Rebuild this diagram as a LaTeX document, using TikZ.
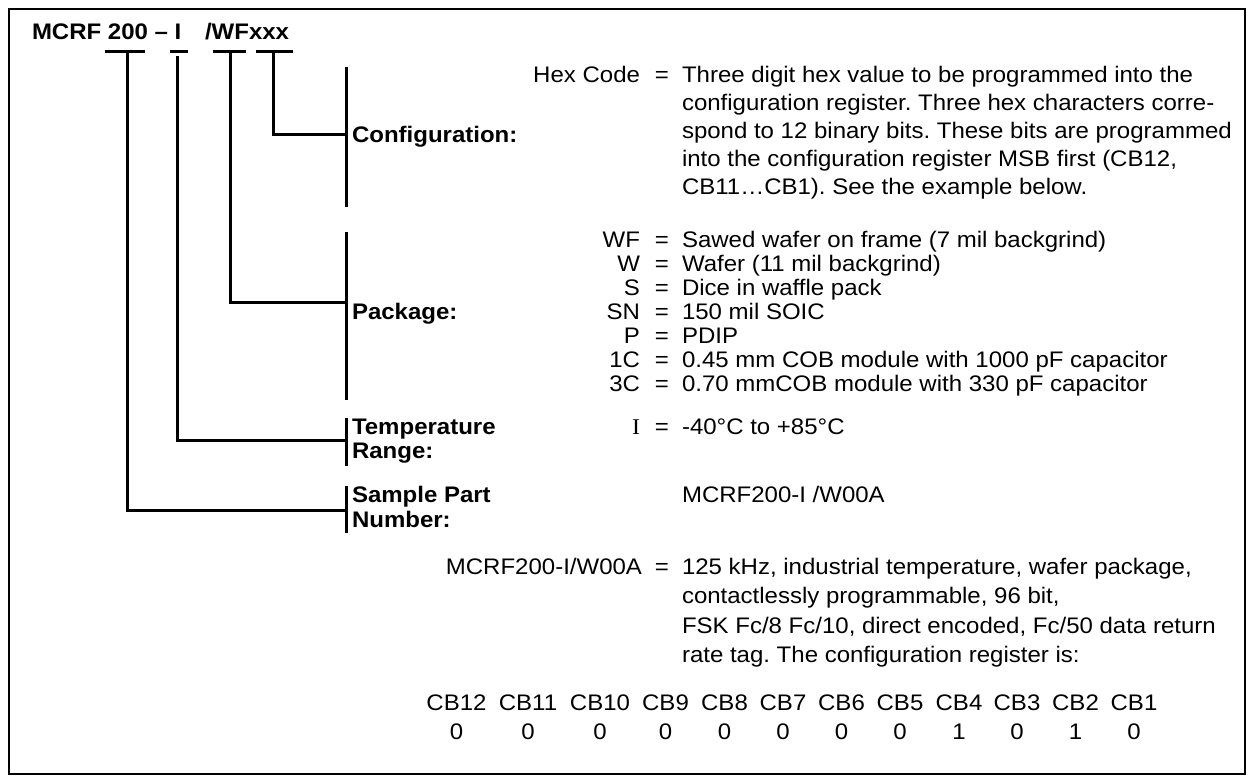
\documentclass[tikz,border=0pt]{standalone}
\usepackage{fontspec}
\setmainfont{Liberation Sans}[FakeStretch=1.067]
\newfontfamily\serifI{Liberation Serif}[FakeStretch=1.067]
\frenchspacing
\begin{document}
\begin{tikzpicture}[x=1pt,y=-1pt,
  txt/.style={font=\fontsize{22.5}{27}\selectfont, inner sep=0pt, outer sep=0pt, anchor=base west},
  keyt/.style={txt, anchor=base east},
  eqt/.style={txt, anchor=base},
  lbl/.style={txt, font=\fontsize{22.5}{27}\selectfont\bfseries},
  ttl/.style={txt, font=\fontsize{22.5}{27}\selectfont\bfseries},
  bar/.style={line width=3pt},
  conn/.style={line width=3pt, line join=miter},
  frame/.style={line width=2pt}]
\useasboundingbox (0,0) rectangle (1254,783);
\draw[frame] (9,9) rectangle (1245,774);

% title
\node[ttl] (t1) at (32,40) {MCRF 200 -- I};
\node[ttl] (t2) at (205,40) {/WFxxx};

% bars under the title
\coordinate (b1l) at (105,52); \coordinate (b1r) at (145,52); \coordinate (b1) at (127,52);
\coordinate (b2l) at (170,52); \coordinate (b2r) at (188,52); \coordinate (b2) at (177,52);
\coordinate (b3l) at (213,52); \coordinate (b3r) at (246,52); \coordinate (b3) at (230,52);
\coordinate (b4l) at (256,52); \coordinate (b4r) at (293,52); \coordinate (b4) at (273,52);
\draw[bar] (b1l) -- (b1r);
\draw[bar] (b2l) -- (b2r);
\draw[bar] (b3l) -- (b3r);
\draw[bar] (b4l) -- (b4r);

% brackets
\coordinate (k1t) at (346,67);  \coordinate (k1b) at (346,207); \coordinate (k1) at (346,135);
\coordinate (k2t) at (346,232); \coordinate (k2b) at (346,400); \coordinate (k2) at (346,303);
\coordinate (k3t) at (346,418); \coordinate (k3b) at (346,466); \coordinate (k3) at (346,441);
\coordinate (k4t) at (346,486); \coordinate (k4b) at (346,533); \coordinate (k4) at (346,511);
\draw[bar] (k1t) -- (k1b);
\draw[bar] (k2t) -- (k2b);
\draw[bar] (k3t) -- (k3b);
\draw[bar] (k4t) -- (k4b);

% connectors
\draw[conn] ([yshift=-1.5pt]b4) |- (k1);
\draw[conn] ([yshift=-1.5pt]b3) |- (k2);
\draw[conn] ([yshift=-4pt]b2) |- (k3);
\draw[conn] ([yshift=-1.5pt]b1) |- (k4);

% labels
\node[lbl] (lconf) at (352,143) {Configuration:};
\node[lbl] (lpack) at (352,320) {Package:};
\node[lbl] (ltemp1) at (352,435) {Temperature};
\node[lbl] (ltemp2) at (352,459) {Range:};
\node[lbl] (lsamp1) at (352,503) {Sample Part};
\node[lbl] (lsamp2) at (352,528) {Number:};

% configuration
\node[keyt] (khex) at (640,83) {Hex Code};
\node[eqt] (ehex) at (662,83) {=};
\node[txt] (c1) at (682,83) {Three digit hex value to be programmed into the};
\node[txt] (c2) at (682,111) {configuration register. Three hex characters corre-};
\node[txt] (c3) at (682,139) {spond to 12 binary bits. These bits are programmed};
\node[txt] (c4) at (682,167) {into the configuration register MSB first (CB12,};
\node[txt] (c5) at (682,195) {CB11…CB1). See the example below.};

% package
\node[keyt] (kwf) at (640,248) {WF}; \node[eqt] (ewf) at (662,248) {=};
\node[txt] (pwf) at (682,248) {Sawed wafer on frame (7 mil backgrind)};
\node[keyt] (kw) at (640,272) {W}; \node[eqt] (ew) at (662,272) {=};
\node[txt] (pw) at (682,272) {Wafer (11 mil backgrind)};
\node[keyt] (ks) at (640,296) {S}; \node[eqt] (es) at (662,296) {=};
\node[txt] (ps) at (682,296) {Dice in waffle pack};
\node[keyt] (ksn) at (640,320) {SN}; \node[eqt] (esn) at (662,320) {=};
\node[txt] (psn) at (682,320) {150 mil SOIC};
\node[keyt] (kp) at (640,344) {P}; \node[eqt] (ep) at (662,344) {=};
\node[txt] (pp) at (682,344) {PDIP};
\node[keyt] (k1c) at (640,368) {1C}; \node[eqt] (e1c) at (662,368) {=};
\node[txt] (p1c) at (682,368) {0.45 mm COB module with 1000 pF capacitor};
\node[keyt] (k3c) at (640,392) {3C}; \node[eqt] (e3c) at (662,392) {=};
\node[txt] (p3c) at (682,392) {0.70 mmCOB module with 330 pF capacitor};

% temperature
\node[keyt, font=\fontsize{22.5}{27}\selectfont\serifI] (ki) at (640,435) {I};
\node[eqt] (ei) at (662,435) {=};
\node[txt] (ti) at (682,435) {-40°C to +85°C};

% sample
\node[txt] (sp) at (682,503) {MCRF200-I /W00A};

% example
\node[keyt] (kex) at (642,574) {MCRF200-I/W00A};
\node[eqt] (eex) at (662,574) {=};
\node[txt] (x1) at (682,574) {125 kHz, industrial temperature, wafer package,};
\node[txt] (x2) at (682,603) {contactlessly programmable, 96 bit,};
\node[txt] (x3) at (682,633) {FSK Fc/8 Fc/10, direct encoded, Fc/50 data return};
\node[txt] (x4) at (682,662) {rate tag. The configuration register is:};

% register bits
\foreach \x/\n/\v [count=\i] in {456.5/CB12/0, 528/CB11/0, 600/CB10/0, 665.5/CB9/0, 724.5/CB8/0, 783/CB7/0, 841.5/CB6/0, 900/CB5/0, 959/CB4/1, 1017/CB3/0, 1075.5/CB2/1, 1134/CB1/0}{
  \node[eqt] (cb\i) at (\x,710) {\n};
  \node[eqt] (bv\i) at (\x,739) {\v};
}
\end{tikzpicture}
\end{document}
